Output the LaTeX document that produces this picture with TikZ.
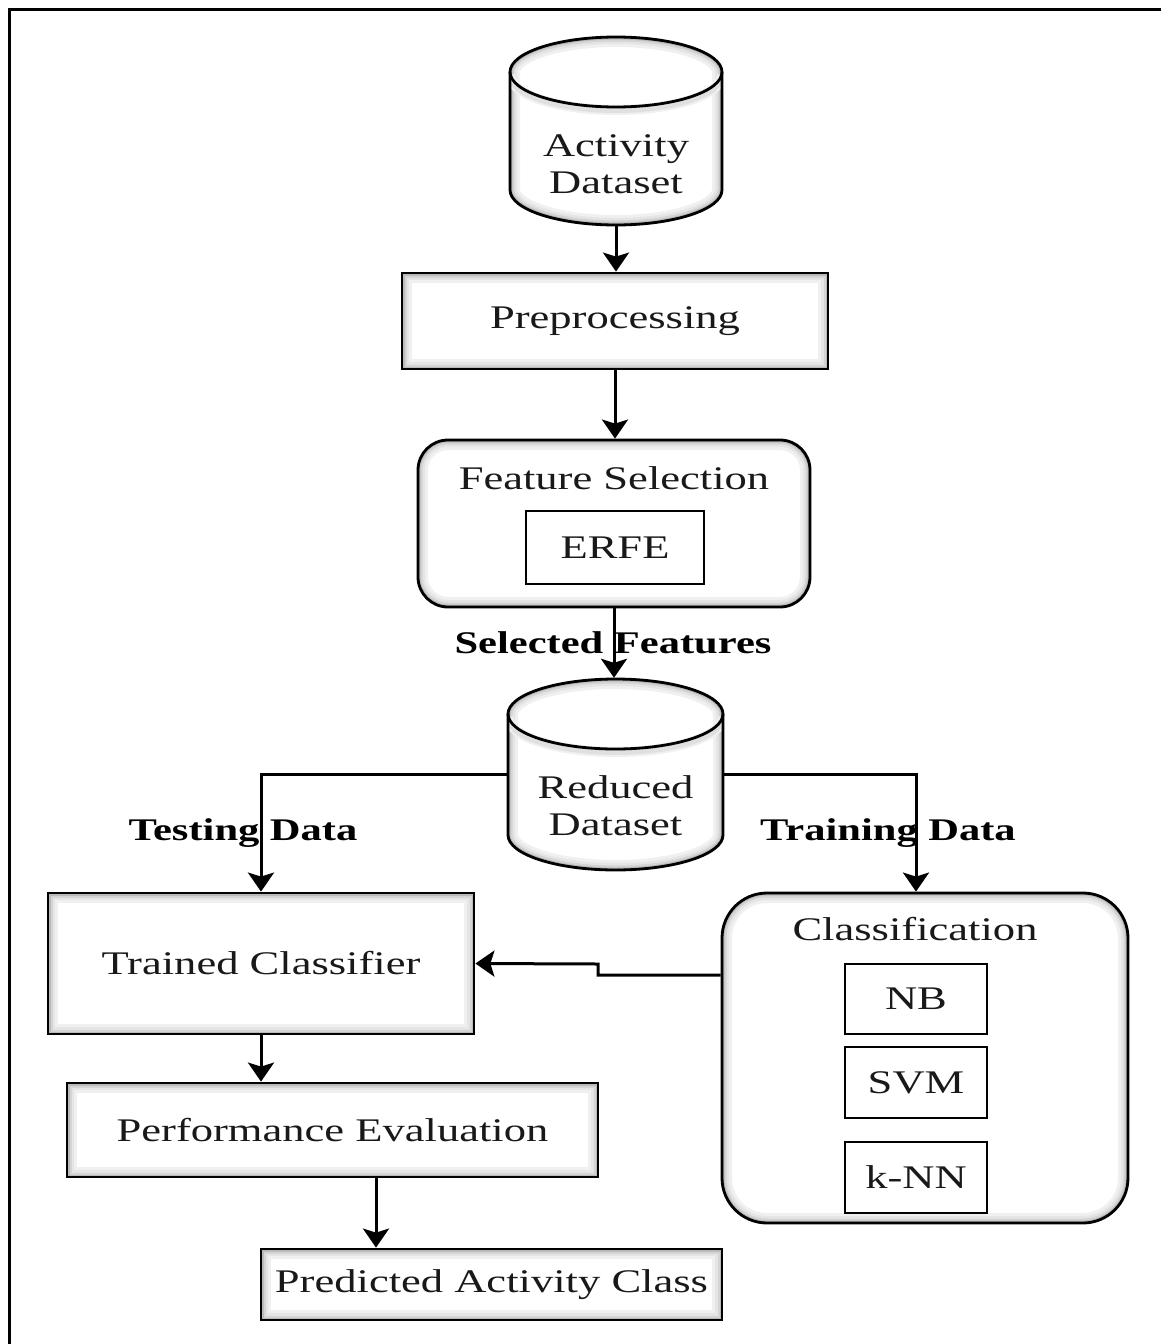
\documentclass[tikz,border=0pt]{standalone}
\usepackage{fontspec}
\setmainfont{Liberation Serif}[FakeStretch=1.35]
\usetikzlibrary{arrows.meta,calc}
\tikzset{
  x=1pt, y=1pt,
  txt/.style={font=\fontsize{33}{40}\selectfont, text=black!90, inner sep=0pt},
  lbl/.style={font=\fontsize{31.5}{38}\selectfont\bfseries, inner sep=0pt},
  arr/.style={line width=3pt, -{Stealth[length=19pt,width=26pt,inset=4pt]}},
  glow/.style={path picture={
      \foreach \ww/\cc in {20/6,14/10,9/17,5/27,2.5/40}
        \draw[line width=\ww pt, black!\cc, rounded corners=#1]
          (path picture bounding box.south west) rectangle (path picture bounding box.north east);}},
  sbox/.style={draw=black, line width=2.8pt, fill=white, glow=0pt, inner sep=0pt,
               font=\fontsize{33}{40}\selectfont, text=black!90},
  rbox/.style={draw=black, line width=2.8pt, fill=white, glow=#1, rounded corners=#1, inner sep=0pt},
  pbox/.style={draw=black, line width=2.6pt, fill=white, inner sep=0pt,
               font=\fontsize{33}{40}\selectfont, text=black!90},
}
% cylinder: #1 left, #2 right, #3 top centre y, #4 bottom centre y, #5 ry
\newcommand\dbcyl[5]{%
  \pgfmathsetmacro\rxx{(#2-#1)/2}%
  \path[fill=white, path picture={
      \foreach \ww/\cc in {20/6,14/10,9/17,5/27,2.5/40}
        \draw[line width=\ww pt, black!\cc] (#1,#3) -- (#1,#4) arc (180:360:\rxx pt and #5pt) -- (#2,#3) arc (0:180:\rxx pt and #5pt) -- cycle;
      \foreach \ww/\cc in {10/6,6/12}
        \draw[line width=\ww pt, black!\cc] (#1,#3-3) arc (180:360:\rxx pt and #5pt);}]
    (#1,#3) -- (#1,#4) arc (180:360:\rxx pt and #5pt) -- (#2,#3) arc (0:180:\rxx pt and #5pt) -- cycle;
  \draw[line width=2.8pt] (#1,#3) -- (#1,#4) arc (180:360:\rxx pt and #5pt) -- (#2,#3) arc (0:180:\rxx pt and #5pt) -- cycle;
  \draw[line width=2.8pt] (#1,#3) arc (180:360:\rxx pt and #5pt);
}
\begin{document}
\begin{tikzpicture}
\useasboundingbox[fill=white] (0,0) rectangle (1161,-1344);
\draw[line width=3pt] (9,-1344) -- (9,-9) -- (1161,-9);

% Activity Dataset
\dbcyl{510}{722}{-72}{-190}{35}
\node[minimum width=212pt, minimum height=188pt, inner sep=0pt] (ad) at (616,-131) {};
\node[txt, align=center] (adtxt) at (616,-164) {Activity\\[-3pt]Dataset};

% Preprocessing
\node[sbox, minimum width=426pt, minimum height=96pt] (pre) at (615,-321) {\raisebox{-4pt}{Preprocessing}};

% Feature selection
\node[rbox=30pt, minimum width=392pt, minimum height=167pt] (fs) at (614,-523.5) {};
\node[txt] (fstitle) at (614,-478) {Feature Selection};
\node[pbox, minimum width=178pt, minimum height=73pt] (erfe) at (615,-547.5) {ERFE};

% Reduced dataset
\dbcyl{508}{723}{-714}{-835}{35}
\node[minimum width=215pt, minimum height=192pt, inner sep=0pt] (rd) at (615.5,-774) {};
\node[txt, align=center] (rdtxt) at (615.5,-806) {Reduced\\[-3pt]Dataset};

% Trained classifier etc.
\node[sbox, minimum width=426pt, minimum height=141pt] (tc) at (261,-963.5) {Trained Classifier};
\node[sbox, minimum width=531pt, minimum height=94pt] (pe) at (332.5,-1130) {Performance Evaluation};
\node[sbox, minimum width=461pt, minimum height=71pt] (pac) at (491.5,-1284.5) {\raisebox{-2pt}{Predicted Activity Class}};

% Classification
\node[rbox=45pt, minimum width=406pt, minimum height=330pt] (cls) at (925,-1058) {};
\node[txt] (clstitle) at (915,-929) {Classification};
\node[pbox, minimum width=142pt, minimum height=70pt] (nb) at (916,-999) {NB};
\node[pbox, minimum width=142pt, minimum height=71pt] (svm) at (916,-1082.5) {SVM};
\node[pbox, minimum width=142pt, minimum height=71pt] (knn) at (916,-1177.5) {k-NN};

% labels
\node[lbl] (selfeat) at (613,-643) {Selected Features};
\node[lbl] (testlbl) at (243,-833) {Testing Data};
\node[lbl] (trainlbl) at (888,-833) {Training Data};

% connectors
\coordinate (pex) at (376,0);
\draw[arr] (ad.south) -- (ad.south |- pre.north);
\draw[arr] (pre.south) -- (pre.south |- fs.north);
\draw[arr] (fs.south) -- (fs.south |- rd.north);
\draw[arr] (rd.west) -| (tc.north);
\draw[arr] (rd.east) -| (nb.north |- cls.north);
\draw[arr] ($(cls.west)+(0,83)$) -- (598,-975) -- (598,-964) -- (tc.east);
\draw[arr] (tc.south) -- (tc.south |- pe.north);
\draw[arr] (pe.south -| pex) -- (pac.north -| pex);
\end{tikzpicture}
\end{document}
